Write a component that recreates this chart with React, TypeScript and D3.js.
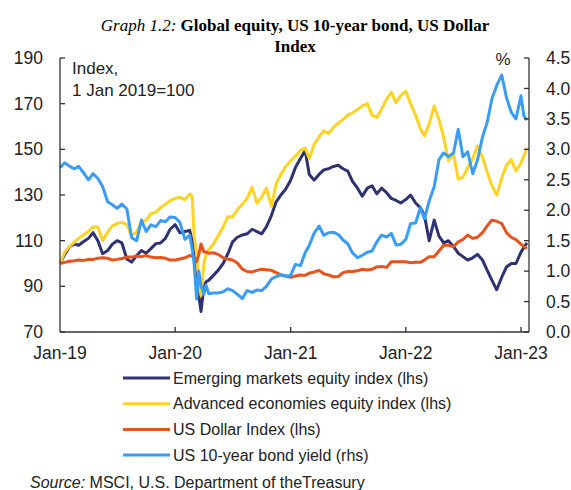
import React from "react";
import * as d3 from "d3";

// semi-monthly observation dates (extra points around the March 2020 sell-off)
const dates = [
  "2019-01-01", "2019-01-16", "2019-02-01", "2019-02-16", "2019-03-01", "2019-03-16",
  "2019-04-01", "2019-04-16", "2019-05-01", "2019-05-16", "2019-06-01", "2019-06-16",
  "2019-07-01", "2019-07-16", "2019-08-01", "2019-08-16", "2019-09-01", "2019-09-16",
  "2019-10-01", "2019-10-16", "2019-11-01", "2019-11-16", "2019-12-01", "2019-12-16",
  "2020-01-01", "2020-01-16", "2020-02-01", "2020-02-16", "2020-02-24", "2020-03-01",
  "2020-03-09", "2020-03-16", "2020-03-23", "2020-04-01", "2020-04-08", "2020-04-16",
  "2020-05-01", "2020-05-16", "2020-06-01", "2020-06-16", "2020-07-01", "2020-07-16",
  "2020-08-01", "2020-08-16", "2020-09-01", "2020-09-16", "2020-10-01", "2020-10-16",
  "2020-11-01", "2020-11-16", "2020-12-01", "2020-12-16",
  "2021-01-01", "2021-01-16", "2021-02-01", "2021-02-16", "2021-03-01", "2021-03-16",
  "2021-04-01", "2021-04-16", "2021-05-01", "2021-05-16", "2021-06-01", "2021-06-16",
  "2021-07-01", "2021-07-16", "2021-08-01", "2021-08-16", "2021-09-01", "2021-09-16",
  "2021-10-01", "2021-10-16", "2021-11-01", "2021-11-16", "2021-12-01", "2021-12-16",
  "2022-01-01", "2022-01-16", "2022-02-01", "2022-02-16", "2022-03-01", "2022-03-16",
  "2022-04-01", "2022-04-16", "2022-05-01", "2022-05-16", "2022-06-01", "2022-06-16",
  "2022-07-01", "2022-07-16", "2022-08-01", "2022-08-16", "2022-09-01", "2022-09-16",
  "2022-10-01", "2022-10-16", "2022-11-01", "2022-11-16", "2022-12-01", "2022-12-16",
  "2023-01-01", "2023-01-10", "2023-01-20",
];

const emergingEquity = [
  100, 104, 107.5, 108.5, 108, 109.5, 111, 113.5, 110, 104.3, 105.7, 108.5,
  110, 109, 102, 100.6, 103.5, 105.7, 104.5, 106.5, 108.7, 109, 111, 115,
  117, 113.5, 114, 114.5, 110, 104.3, 97, 86, 79, 90, 92, 92.6,
  94.8, 97, 100, 104.3, 109.5, 111.5, 112.5, 113, 115, 114, 113, 116,
  121, 127, 130, 132.5,
  136.5, 142, 146, 149.5, 139, 136.5, 139, 141, 141.5, 142.5, 143, 141.5,
  140.5, 136, 133, 129.5, 133, 134, 130.5, 133, 131, 128.5, 127.6, 126.5,
  128, 130, 126.5, 124.5, 121, 110, 119, 112, 109, 110, 107.5, 104.5,
  103, 101.5, 102.5, 104, 101.5, 97, 92.6, 88.5, 94, 98.5, 100, 100,
  105, 107, 109,
];

const advancedEquity = [
  100, 105, 107.5, 109.5, 111, 112.5, 114, 116, 116, 110, 113.8, 116.5,
  117.5, 118, 117, 112.3, 113.8, 118, 118.9, 121.8, 122.5, 124.5, 126, 127.5,
  128.5, 129, 128, 130.5, 129.5, 112, 104, 92, 86, 100, 104, 106,
  108.5, 112, 116, 120.5, 120.4, 123.5, 126, 128.5, 133.4, 126.5, 129, 133,
  125, 135, 139, 142.5,
  145, 147, 149.5, 150.5, 146, 152, 155.5, 158, 157, 159.5, 161.5, 163,
  165, 166, 167.5, 169, 170, 165, 164, 167.5, 172, 175, 170.5, 173.5,
  175.5, 170, 165, 159, 156, 161, 169, 163, 155.3, 145, 148, 137,
  137.8, 142, 146, 151.5, 146.5, 140, 134, 130, 137.5, 143, 145.5, 140.5,
  144, 147, 150.5,
];

const dollarIndex = [
  100, 100.5, 101, 101.2, 101.5, 101.3, 101.8, 101.8, 102.3, 102.5, 102.3, 101.5,
  101.8, 102.2, 102.8, 102.8, 103.3, 103, 103.5, 102.8, 102.5, 102.6, 102.3, 101.5,
  101.5, 102, 102.5, 103.5, 103.2, 102.3, 100.8, 104, 108.5, 105, 105, 104.5,
  104.7, 104, 102.5, 102, 101.5, 100.2, 97.5, 96.5, 96.3, 97, 97.5, 97.3,
  97, 96, 95, 94.5,
  94, 94.5, 95, 94.8, 95.8, 96.3, 97, 95.5, 95, 94.2, 94.3, 96,
  96.5, 96.5, 96.8, 97.5, 97.2, 97.5, 98.5, 98.7, 98.3, 100.8, 100.8, 100.8,
  100.8, 100.3, 100.5, 100.5, 101.5, 103, 103, 105.5, 108, 108, 107.3, 109.5,
  110.5, 112.5, 111, 111.5, 113.5, 116.5, 119, 118.5, 117.5, 113.5, 111.5, 110.5,
  108.5, 107.5, 106.5,
];

const bondYield = [
  2.7, 2.78, 2.72, 2.68, 2.72, 2.62, 2.5, 2.6, 2.52, 2.39, 2.14, 2.09,
  2.03, 2.1, 2.02, 1.55, 1.5, 1.84, 1.65, 1.76, 1.73, 1.83, 1.81, 1.89,
  1.88, 1.8, 1.52, 1.59, 1.36, 1.13, 0.54, 1.0, 0.76, 0.62, 0.77, 0.63,
  0.64, 0.64, 0.66, 0.71, 0.68, 0.62, 0.55, 0.68, 0.65, 0.69, 0.68, 0.75,
  0.87, 0.91, 0.94, 0.92,
  0.93, 1.11, 1.09, 1.3, 1.42, 1.62, 1.74, 1.59, 1.63, 1.64, 1.6, 1.51,
  1.45, 1.3, 1.22, 1.26, 1.31, 1.33, 1.48, 1.59, 1.56, 1.62, 1.43, 1.44,
  1.52, 1.78, 1.79, 2.04, 1.86, 2.15, 2.39, 2.83, 2.94, 2.88, 2.94, 3.33,
  2.88, 2.96, 2.6, 2.82, 3.2, 3.45, 3.83, 4.05, 4.22, 3.85, 3.61, 3.5,
  3.88, 3.55, 3.48,
];

const leftTicks = [70, 90, 110, 130, 150, 170, 190];
const rightTicks = [0, 0.5, 1, 1.5, 2, 2.5, 3, 3.5, 4, 4.5];
const xTickLabels = ["Jan-19", "Jan-20", "Jan-21", "Jan-22", "Jan-23"];
const xTickDates = ["2019-01-01", "2020-01-01", "2021-01-01", "2022-01-01", "2023-01-01"];

const seriesNames = [
  "Emerging markets equity index (lhs)",
  "Advanced economies equity index (lhs)",
  "US Dollar Index (lhs)",
  "US 10-year bond yield (rhs)",
];
const seriesColors = ["#2e3272", "#ffd324", "#e8521c", "#3a9cf5"];

const parse = d3.timeParse("%Y-%m-%d");
const sans = "'Liberation Sans', Arial, sans-serif";
const serif = "'Liberation Serif', 'Times New Roman', serif";
const axisColor = "#333";

export default function App() {
  const left = 60, right = 529, top = 58, bottom = 332;
  const x = d3.scaleTime()
    .domain([parse("2019-01-01")!, parse("2023-01-01")!])
    .range([left, 521]);
  const yL = d3.scaleLinear().domain([70, 190]).range([bottom, top]);
  const yR = d3.scaleLinear().domain([0, 4.5]).range([bottom, top]);

  const ds = dates.map((d) => parse(d)!);
  const lineL = d3.line<number>().x((_, i) => x(ds[i])).y((v) => yL(v));
  const lineR = d3.line<number>().x((_, i) => x(ds[i])).y((v) => yR(v));

  const paths = [
    lineL(emergingEquity),
    lineL(advancedEquity),
    lineL(dollarIndex),
    lineR(bondYield),
  ];

  return (
    <svg width={571} height={490} style={{ position: "absolute", left: 0, top: 0, background: "#fff" }}>
      <text x={295} y={31} textAnchor="middle" fontFamily={serif} fontSize={17} fill="#000">
        <tspan fontStyle="italic">Graph 1.2: </tspan>
        <tspan fontWeight="bold">Global equity, US 10-year bond, US Dollar</tspan>
      </text>
      <text x={295} y={52} textAnchor="middle" fontFamily={serif} fontSize={17} fontWeight="bold" fill="#000">
        Index
      </text>

      <text x={72} y={74} fontFamily={sans} fontSize={17} fill="#222">Index,</text>
      <text x={72} y={96} fontFamily={sans} fontSize={17} fill="#222">1 Jan 2019=100</text>
      <text x={503} y={65} textAnchor="middle" fontFamily={sans} fontSize={17} fill="#222">%</text>

      {paths.map((p, i) => (
        <path key={i} d={p ?? ""} fill="none" stroke={seriesColors[i]} strokeWidth={3} strokeLinejoin="round" />
      ))}

      {/* axes */}
      <g stroke={axisColor} strokeWidth={1.3} fill="none">
        <line x1={left} y1={top} x2={left} y2={bottom} />
        <line x1={right} y1={top} x2={right} y2={bottom} />
        <line x1={left} y1={bottom} x2={right} y2={bottom} />
        {leftTicks.map((t) => (
          <line key={"l" + t} x1={left} x2={left + 5} y1={yL(t)} y2={yL(t)} />
        ))}
        {rightTicks.map((t) => (
          <line key={"r" + t} x1={right - 5} x2={right} y1={yR(t)} y2={yR(t)} />
        ))}
        {xTickDates.slice(1).map((d) => (
          <line key={d} x1={x(parse(d)!)} x2={x(parse(d)!)} y1={bottom} y2={bottom - 5} />
        ))}
      </g>

      <g fontFamily={sans} fontSize={17.5} fill="#222">
        {leftTicks.map((t) => (
          <text key={t} x={43} y={yL(t)} dy="0.35em" textAnchor="end">{t}</text>
        ))}
        {rightTicks.map((t) => (
          <text key={t} x={546} y={yR(t)} dy="0.35em">{t.toFixed(1)}</text>
        ))}
        {xTickLabels.map((l, i) => (
          <text key={l} x={x(parse(xTickDates[i])!)} y={353} dy="0.35em" textAnchor="middle">{l}</text>
        ))}
      </g>

      <g fontFamily={sans} fontSize={16} fill="#222">
        {seriesNames.map((n, i) => (
          <g key={n} transform={`translate(0,${378 + i * 25.7})`}>
            <line x1={123} x2={170} y1={0} y2={0} stroke={seriesColors[i]} strokeWidth={3} />
            <text x={173} y={0} dy="0.35em">{n}</text>
          </g>
        ))}
        <text x={30} y={482} dy="0.35em">
          <tspan fontStyle="italic">Source:</tspan> MSCI, U.S. Department of theTreasury
        </text>
      </g>
    </svg>
  );
}
